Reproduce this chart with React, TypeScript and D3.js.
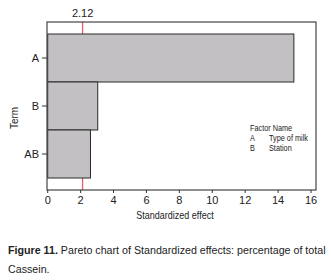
import React from "react";
import * as d3 from "d3";

const terms = ["A", "B", "AB"];
const effects = [14.96, 3.04, 2.6];
const xTicks = [0, 2, 4, 6, 8, 10, 12, 14, 16];
const refValue = 2.12;
const legendRows = [
  ["A", "Type of milk"],
  ["B", "Station"],
];

export default function App() {
  const W = 331, H = 280;
  const box = { x0: 47, x1: 316, y0: 22, y1: 190 };
  const x = d3.scaleLinear().domain([0, 16]).range([47.7, 311]);
  const y = d3.scaleBand().domain(terms).range([34, 178]).paddingInner(0).paddingOuter(0);
  const font = "'Liberation Sans', Arial, sans-serif";
  return (
    <div style={{ position: "absolute", left: 0, top: 0 }}>
      <svg width={W} height={H} style={{ display: "block" }} fontFamily={font}>
        <rect width={W} height={H} fill="#fff" />
        {/* reference line */}
        <line x1={x(refValue)} x2={x(refValue)} y1={box.y0} y2={box.y1} stroke="#e8606e" strokeWidth={1.3} />
        <text x={x(refValue)} y={17} textAnchor="middle" fontSize={11} fill="#222">2.12</text>
        {/* bars */}
        {terms.map((t, i) => (
          <rect key={t} x={x(0)} y={y(t)!} width={x(effects[i]) - x(0)} height={y.bandwidth()}
            fill="#c2c0c2" stroke="#2a2a2a" strokeWidth={1} />
        ))}
        {/* frame */}
        <rect x={box.x0} y={box.y0} width={box.x1 - box.x0} height={box.y1 - box.y0} fill="none" stroke="#444" strokeWidth={1.2} />
        {/* y ticks */}
        {terms.map((t) => {
          const cy = y(t)! + y.bandwidth() / 2;
          return (
            <g key={t}>
              <line x1={42} x2={47} y1={cy} y2={cy} stroke="#333" strokeWidth={1} />
              <text x={39} y={cy} dy="0.35em" textAnchor="end" fontSize={11} fill="#222">{t}</text>
            </g>
          );
        })}
        {/* x ticks */}
        {xTicks.map((v) => (
          <g key={v}>
            <line x1={x(v)} x2={x(v)} y1={box.y1} y2={box.y1 + 3} stroke="#333" strokeWidth={1} />
            <text x={x(v)} y={204} textAnchor="middle" fontSize={11} fill="#222">{v}</text>
          </g>
        ))}
        <text transform="translate(175,219) scale(0.9,1)" textAnchor="middle" fontSize={10} fill="#222">Standardized effect</text>
        <text transform="translate(18,118) rotate(-90)" textAnchor="middle" fontSize={10} fill="#222">Term</text>
        {/* legend */}
        <g fontSize={8.5} fill="#222">
          <text transform="translate(250,131) scale(0.86,1)">Factor Name</text>
          {legendRows.map((r, i) => (
            <g key={i}>
              <text transform={`translate(250,${141 + i * 10}) scale(0.86,1)`}>{r[0]}</text>
              <text transform={`translate(269,${141 + i * 10}) scale(0.86,1)`}>{r[1]}</text>
            </g>
          ))}
        </g>
        {/* caption */}
        <g transform="translate(8,254) scale(0.93,1)">
          <text x={0} y={0} fontSize={11.5} fill="#222">
            <tspan fontWeight="bold">Figure 11.</tspan> Pareto chart of Standardized effects: percentage of total
          </text>
          <text x={0} y={19} fontSize={11.5} fill="#222">Cassein.</text>
        </g>
      </svg>
    </div>
  );
}
